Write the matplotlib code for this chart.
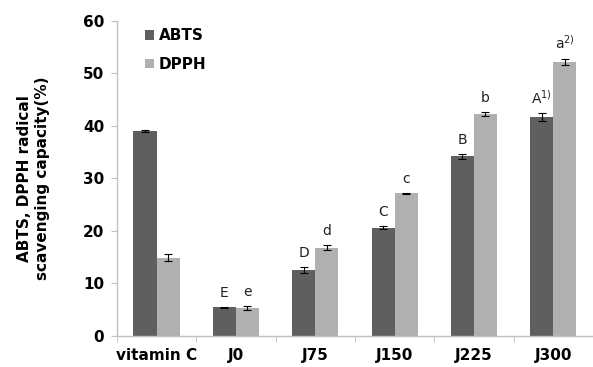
import matplotlib
matplotlib.use("Agg")
import matplotlib.pyplot as plt
import numpy as np

categories = ["vitamin C", "J0", "J75", "J150", "J225", "J300"]
abts = [39.0, 5.5, 12.6, 20.6, 34.2, 41.7]
abts_err = [0.2, 0.1, 0.6, 0.3, 0.5, 0.7]
dpph = [14.9, 5.4, 16.8, 27.2, 42.2, 52.1]
dpph_err = [0.7, 0.4, 0.5, 0.1, 0.4, 0.6]
abts_letters = ["", "E", "D", "C", "B", "A$^{1)}$"]
dpph_letters = ["", "e", "d", "c", "b", "a$^{2)}$"]
yticks = [0, 10, 20, 30, 40, 50, 60]

fig = plt.figure(figsize=(5.93, 3.67), dpi=100)
ax = fig.add_axes([0.197, 0.0845, 0.803, 0.859])

x = np.arange(len(categories))
w = 0.29
c1, c2 = "#5f5f5f", "#b0b0b0"
ax.bar(x - w/2, abts, w, color=c1, label="ABTS", yerr=abts_err,
       error_kw=dict(ecolor="black", elinewidth=0.8, capsize=3, capthick=0.8))
ax.bar(x + w/2, dpph, w, color=c2, label="DPPH", yerr=dpph_err,
       error_kw=dict(ecolor="black", elinewidth=0.8, capsize=3, capthick=0.8))

for i in range(len(categories)):
    if abts_letters[i]:
        ax.annotate(abts_letters[i], (x[i] - w/2, abts[i] + abts_err[i]),
                    xytext=(0, 5), textcoords="offset points", ha="center",
                    va="bottom", fontsize=10, color="#222222")
    if dpph_letters[i]:
        ax.annotate(dpph_letters[i], (x[i] + w/2, dpph[i] + dpph_err[i]),
                    xytext=(0, 5), textcoords="offset points", ha="center",
                    va="bottom", fontsize=10, color="#222222")

ax.set_xlim(-0.5, len(categories) - 0.5)
ax.set_ylim(0, 60)
ax.set_yticks(yticks)
ax.set_yticklabels([str(t) for t in yticks], fontsize=11, fontweight="bold")
ax.set_xticks(x)
ax.set_xticklabels(categories, fontsize=11, fontweight="bold")
ax.set_xticks(np.arange(len(categories) + 1) - 0.5, minor=True)
ax.tick_params(axis="x", which="major", length=0, pad=9)
ax.tick_params(axis="x", which="minor", length=4, color="#c0c0c0", direction="out")
ax.tick_params(axis="y", length=4, color="#c0c0c0", pad=5)

for s in ["top", "right"]:
    ax.spines[s].set_visible(False)
for s in ["left", "bottom"]:
    ax.spines[s].set_color("#c0c0c0")
    ax.spines[s].set_linewidth(1.0)

ax.set_ylabel("ABTS, DPPH radical\nscavenging capacity(%)", fontsize=11,
              fontweight="bold", labelpad=24, linespacing=1.25)

leg = ax.legend(loc="upper left", bbox_to_anchor=(0.03, 1.02), frameon=False,
                prop=dict(size=11, weight="bold"), handlelength=0.6,
                handleheight=0.6, handletextpad=0.3, labelspacing=0.9)

fig.savefig("out.png", dpi=100)
